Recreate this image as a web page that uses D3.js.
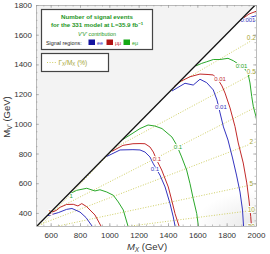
<!doctype html>
<html>
<head>
<script src="https://cdn.jsdelivr.net/npm/d3@7"></script>
<style>
body{margin:0;background:#fff}
text{font-family:"Liberation Sans",Arial,sans-serif}
</style>
</head>
<body>
<script>
// tick values
var mxTicks = [600, 800, 1000, 1200, 1400, 1600, 1800, 2000];
var mvTicks = [400, 600, 800, 1000, 1200, 1400, 1600, 1800];

// kinematic boundary M_V' vs M_X
var boundaryMX = [507, 1995];
var boundaryMV = [312, 1800];

// Gamma_X / M_X contours (M_V' at M_X=500 and M_X=2000)
var gammaLevels = ["0.1", "0.2", "0.5", "1", "2", "5", "10", "20"];
var gammaAt500  = [281, 712, 554, 356, 312, 280, 230, 200];
var gammaAt2000 = [1840, 1578, 1349, 1113, 878, 595, 420, 312];
var gammaShown  = [false, true, true, false, true, true, true, true];

// signal event contours, [M_X, M_V'] points
var ee0001 = [[1918,1702],[1959,1716],[2007,1729]];
var mm0001 = [[1915,1712],[1952,1739],[2007,1760]];

var ee001 = [[1427,1221],[1516,1273],[1572,1261],[1618,1300],[1664,1277],[1709,1228],[1734,1160],
  [1755,1073],[1778,979],[1809,891],[1840,770],[1867,655],[1891,541],[1908,420],[1915,312],[1917,290]];
var mm001 = [[1441,1250],[1482,1284],[1550,1317],[1618,1335],[1673,1332],[1709,1329],[1743,1295],
  [1768,1255],[1789,1207],[1823,1107],[1857,981],[1879,871],[1913,736],[1937,602],[1952,487],
  [1964,375],[1969,312],[1970,290]];
var em001 = [[1590,1390],[1630,1407],[1664,1418],[1709,1433],[1755,1433],[1809,1441],[1845,1425],
  [1879,1403],[1911,1385],[1945,1342],[1959,1275],[1971,1183],[1982,1115],[2000,1048],[2014,958]];

var ee01 = [[982,780],[1073,824],[1161,826],[1209,824],[1243,810],[1277,777],[1300,731],[1345,655],
  [1380,575],[1414,462],[1436,373],[1448,312],[1450,290]];
var mm01 = [[1018,815],[1093,855],[1161,866],[1209,867],[1243,866],[1277,844],[1300,810],[1323,756],
  [1357,689],[1402,575],[1425,487],[1448,395],[1475,312],[1478,290]];
var em01 = [[1093,895],[1141,925],[1209,968],[1264,992],[1311,985],[1359,968],[1427,911],[1459,857],
  [1493,777],[1527,689],[1550,597],[1572,496],[1596,395],[1607,312],[1609,290]];

var ee1 = [[582,382],[652,402],[709,424],[745,430],[800,406],[841,369],[882,312],[886,290]];
var mm1 = [[607,405],[641,418],[664,438],[709,457],[754,458],[786,447],[812,463],[846,442],[902,386],
  [943,312],[946,290]];
var em1 = [[732,530],[777,552],[846,566],[902,548],[936,556],[982,541],[1027,519],[1061,474],
  [1095,420],[1127,312],[1130,290]];

// contour label positions [M_X, M_V', text]
var eeLabels = [[1945,1699,"0.001"],[1761,1113,"0.01"],[1311,696,"0.1"]];
var mmLabels = [[1755,1302,"0.01"],[1325,763,"0.1"],[595,408,"1"]];
var emLabels = [[1901,1386,"0.01"],[1468,844,"0.1"],[739,516,"1"]];

var colEE = "#3535c0", colMM = "#c22a2a", colEM = "#2aa82a";
var colGamma = "#c9c955", colGammaText = "#a5a535";

var W = 270, H = 254;
var x = d3.scaleLinear().domain([500, 2000]).range([36, 256]);
var y = d3.scaleLinear().domain([312, 1800]).range([226, 5]);

var svg = d3.select("body").append("svg").attr("width", W).attr("height", H);
var defs = svg.append("defs");

defs.append("clipPath").attr("id", "plotclip").append("rect")
    .attr("x", x(500)).attr("y", y(1800))
    .attr("width", x(2000) - x(500)).attr("height", y(312) - y(1800));

var allowed = [[boundaryMX[0], boundaryMV[0]], [boundaryMX[1], boundaryMV[1]], [2000, 1800], [2000, 312]];
defs.append("clipPath").attr("id", "allowed").append("path")
    .attr("d", d3.line().x(d => x(d[0])).y(d => y(d[1]))(allowed) + "Z");

var grad = defs.append("radialGradient").attr("id", "shade")
    .attr("cx", 1).attr("cy", 1).attr("r", 0.6);
grad.append("stop").attr("offset", "0%").attr("stop-color", "#e8e8e8");
grad.append("stop").attr("offset", "100%").attr("stop-color", "#ffffff");

var plot = svg.append("g").attr("clip-path", "url(#plotclip)");

// light shading at the lower right
plot.append("rect")
    .attr("x", x(1300)).attr("y", y(700))
    .attr("width", x(2000) - x(1300)).attr("height", y(312) - y(700))
    .attr("fill", "url(#shade)");

// excluded region
var excluded = [[500, 312], [boundaryMX[0], boundaryMV[0]], [boundaryMX[1], boundaryMV[1]], [500, 1800]];
plot.append("path")
    .attr("d", d3.line().x(d => x(d[0])).y(d => y(d[1]))(excluded) + "Z")
    .attr("fill", "#f3f3f3");

// Gamma/M dotted lines
var gam = plot.append("g").attr("clip-path", "url(#allowed)");
gammaLevels.forEach(function(l, i) {
  gam.append("line")
      .attr("x1", x(500)).attr("y1", y(gammaAt500[i]))
      .attr("x2", x(2000)).attr("y2", y(gammaAt2000[i]))
      .attr("stroke", colGamma).attr("stroke-width", 0.9)
      .attr("stroke-dasharray", "1,1.6");
});

var line = d3.line().x(d => x(d[0])).y(d => y(d[1])).curve(d3.curveLinear);
function contour(pts, col) {
  plot.append("path").attr("d", line(pts))
      .attr("fill", "none").attr("stroke", col).attr("stroke-width", 1);
}
[ee0001, ee001, ee01, ee1].forEach(p => contour(p, colEE));
[mm0001, mm001, mm01, mm1].forEach(p => contour(p, colMM));
[em001, em01, em1].forEach(p => contour(p, colEM));

function labels(arr, col) {
  plot.selectAll(null).data(arr).enter().append("text")
      .attr("x", d => x(d[0])).attr("y", d => y(d[1]) + 2)
      .attr("text-anchor", "middle")
      .attr("font-size", 6)
      .attr("fill", col)
      .attr("stroke", "#fff").attr("stroke-width", 2).attr("paint-order", "stroke")
      .text(d => d[2]);
}
labels(eeLabels, colEE);
labels(mmLabels, colMM);
labels(emLabels, colEM);

// Gamma labels at the right edge
plot.selectAll(null).data(gammaLevels.filter((l, i) => gammaShown[i])).enter().append("text")
    .attr("x", x(1968))
    .attr("y", function(l) { return y(gammaAt2000[gammaLevels.indexOf(l)]) + 2.5; })
    .attr("text-anchor", "middle")
    .attr("font-size", 6.5)
    .attr("fill", colGammaText)
    .attr("stroke", "#fff").attr("stroke-width", 2).attr("paint-order", "stroke")
    .text(d => d);

// boundary line
plot.append("line")
    .attr("x1", x(boundaryMX[0])).attr("y1", y(boundaryMV[0]))
    .attr("x2", x(boundaryMX[1])).attr("y2", y(boundaryMV[1]))
    .attr("stroke", "#111").attr("stroke-width", 1.3);

// frame and ticks
var mxMinor = d3.range(500, 2001, 50), mvMinor = d3.range(350, 1801, 50);
var fmt = d3.format("d");
function styleAxis(g) {
  g.select(".domain").attr("stroke", "#aaa").attr("stroke-width", 0.8);
  g.selectAll(".tick line").attr("stroke", "#999").attr("stroke-width", 0.6);
  g.selectAll(".tick text").attr("font-size", 8).attr("fill", "#333")
      .attr("font-family", '"Liberation Sans",Arial,sans-serif');
}
svg.append("g").attr("transform", "translate(0," + y(312) + ")")
    .call(d3.axisBottom(x).tickValues(mxTicks).tickFormat(fmt).tickSize(-3).tickSizeOuter(0).tickPadding(6)).call(styleAxis);
svg.append("g").attr("transform", "translate(" + x(500) + ",0)")
    .call(d3.axisLeft(y).tickValues(mvTicks).tickFormat(fmt).tickSize(-3).tickSizeOuter(0).tickPadding(4)).call(styleAxis);
svg.append("g").attr("transform", "translate(0," + y(1800) + ")")
    .call(d3.axisTop(x).tickValues(mxTicks).tickSize(-3).tickSizeOuter(0).tickFormat("")).call(styleAxis);
svg.append("g").attr("transform", "translate(" + x(2000) + ",0)")
    .call(d3.axisRight(y).tickValues(mvTicks).tickSize(-3).tickSizeOuter(0).tickFormat("")).call(styleAxis);
[[d3.axisBottom(x), y(312)], [d3.axisTop(x), y(1800)]].forEach(function(a) {
  svg.append("g").attr("transform", "translate(0," + a[1] + ")")
      .call(a[0].tickValues(mxMinor).tickSize(-1.5).tickFormat("")).call(styleAxis)
      .select(".domain").remove();
});
[[d3.axisLeft(y), x(500)], [d3.axisRight(y), x(2000)]].forEach(function(a) {
  svg.append("g").attr("transform", "translate(" + a[1] + ",0)")
      .call(a[0].tickValues(mvMinor).tickSize(-1.5).tickFormat("")).call(styleAxis)
      .select(".domain").remove();
});

// axis titles
var xt = svg.append("text").attr("x", 147).attr("y", 250).attr("text-anchor", "middle")
    .attr("font-size", 9.5).attr("fill", "#333");
xt.append("tspan").attr("font-style", "italic").text("M");
xt.append("tspan").attr("font-size", 6.5).attr("dy", 2).attr("font-style", "italic").text("X");
xt.append("tspan").attr("dy", -2).text(" (GeV)");

var yt = svg.append("text").attr("transform", "translate(10,117) rotate(-90)")
    .attr("text-anchor", "middle").attr("font-size", 9.5).attr("fill", "#333");
yt.append("tspan").text("M");
yt.append("tspan").attr("font-size", 6.5).attr("dy", 2).text("V′");
yt.append("tspan").attr("dy", -2).text(" (GeV)");

// legend box
var green = "#1e961e";
svg.append("rect").attr("x", 41.5).attr("y", 9.5).attr("width", 111).attr("height", 40)
    .attr("fill", "#fff").attr("stroke", "#444").attr("stroke-width", 1.2);
svg.append("text").attr("x", 97).attr("y", 18.5).attr("text-anchor", "middle")
    .attr("font-size", 6.2).attr("font-weight", "bold").attr("fill", green)
    .text("Number of signal events");
var t2 = svg.append("text").attr("x", 97).attr("y", 27).attr("text-anchor", "middle")
    .attr("font-size", 6.2).attr("font-weight", "bold").attr("fill", green);
t2.append("tspan").text("for the 331 model at L=35.9 fb");
t2.append("tspan").attr("font-size", 4.3).attr("dy", -2.5).text("−1");
svg.append("text").attr("x", 97).attr("y", 35.5).attr("text-anchor", "middle")
    .attr("font-size", 5.3).attr("fill", green)
    .html('<tspan font-style="italic">V′V′</tspan> contribution');
svg.append("text").attr("x", 46).attr("y", 44.5).attr("font-size", 5.4).attr("fill", "#222")
    .text("Signal regions:");
var regions = [["ee", "#1414a0", colEE, 88.5], ["μμ", "#b01414", colMM, 106.5], ["eμ", "#14a814", colEM, 123.5]];
regions.forEach(function(r) {
  svg.append("rect").attr("x", r[3]).attr("y", 39.5).attr("width", 6.5).attr("height", 5.5).attr("fill", r[1]);
  svg.append("text").attr("x", r[3] + 8.5).attr("y", 44.5).attr("font-size", 5.4).attr("fill", r[2]).text(r[0]);
});

// Gamma legend box
svg.append("rect").attr("x", 41.5).attr("y", 53.5).attr("width", 67).attr("height", 18)
    .attr("fill", "#fff").attr("stroke", "#444").attr("stroke-width", 1.2);
svg.append("line").attr("x1", 47).attr("x2", 57).attr("y1", 62.5).attr("y2", 62.5)
    .attr("stroke", colGamma).attr("stroke-width", 0.9).attr("stroke-dasharray", "1,1.6");
var gt = svg.append("text").attr("x", 58.5).attr("y", 64.8).attr("font-size", 6.5).attr("fill", colGammaText);
gt.append("tspan").text("Γ");
gt.append("tspan").attr("font-size", 4.5).attr("dy", 1.5).text("X");
gt.append("tspan").attr("dy", -1.5).text("/M");
gt.append("tspan").attr("font-size", 4.5).attr("dy", 1.5).text("X");
gt.append("tspan").attr("dy", -1.5).text(" (%)");
</script>
</body>
</html>
